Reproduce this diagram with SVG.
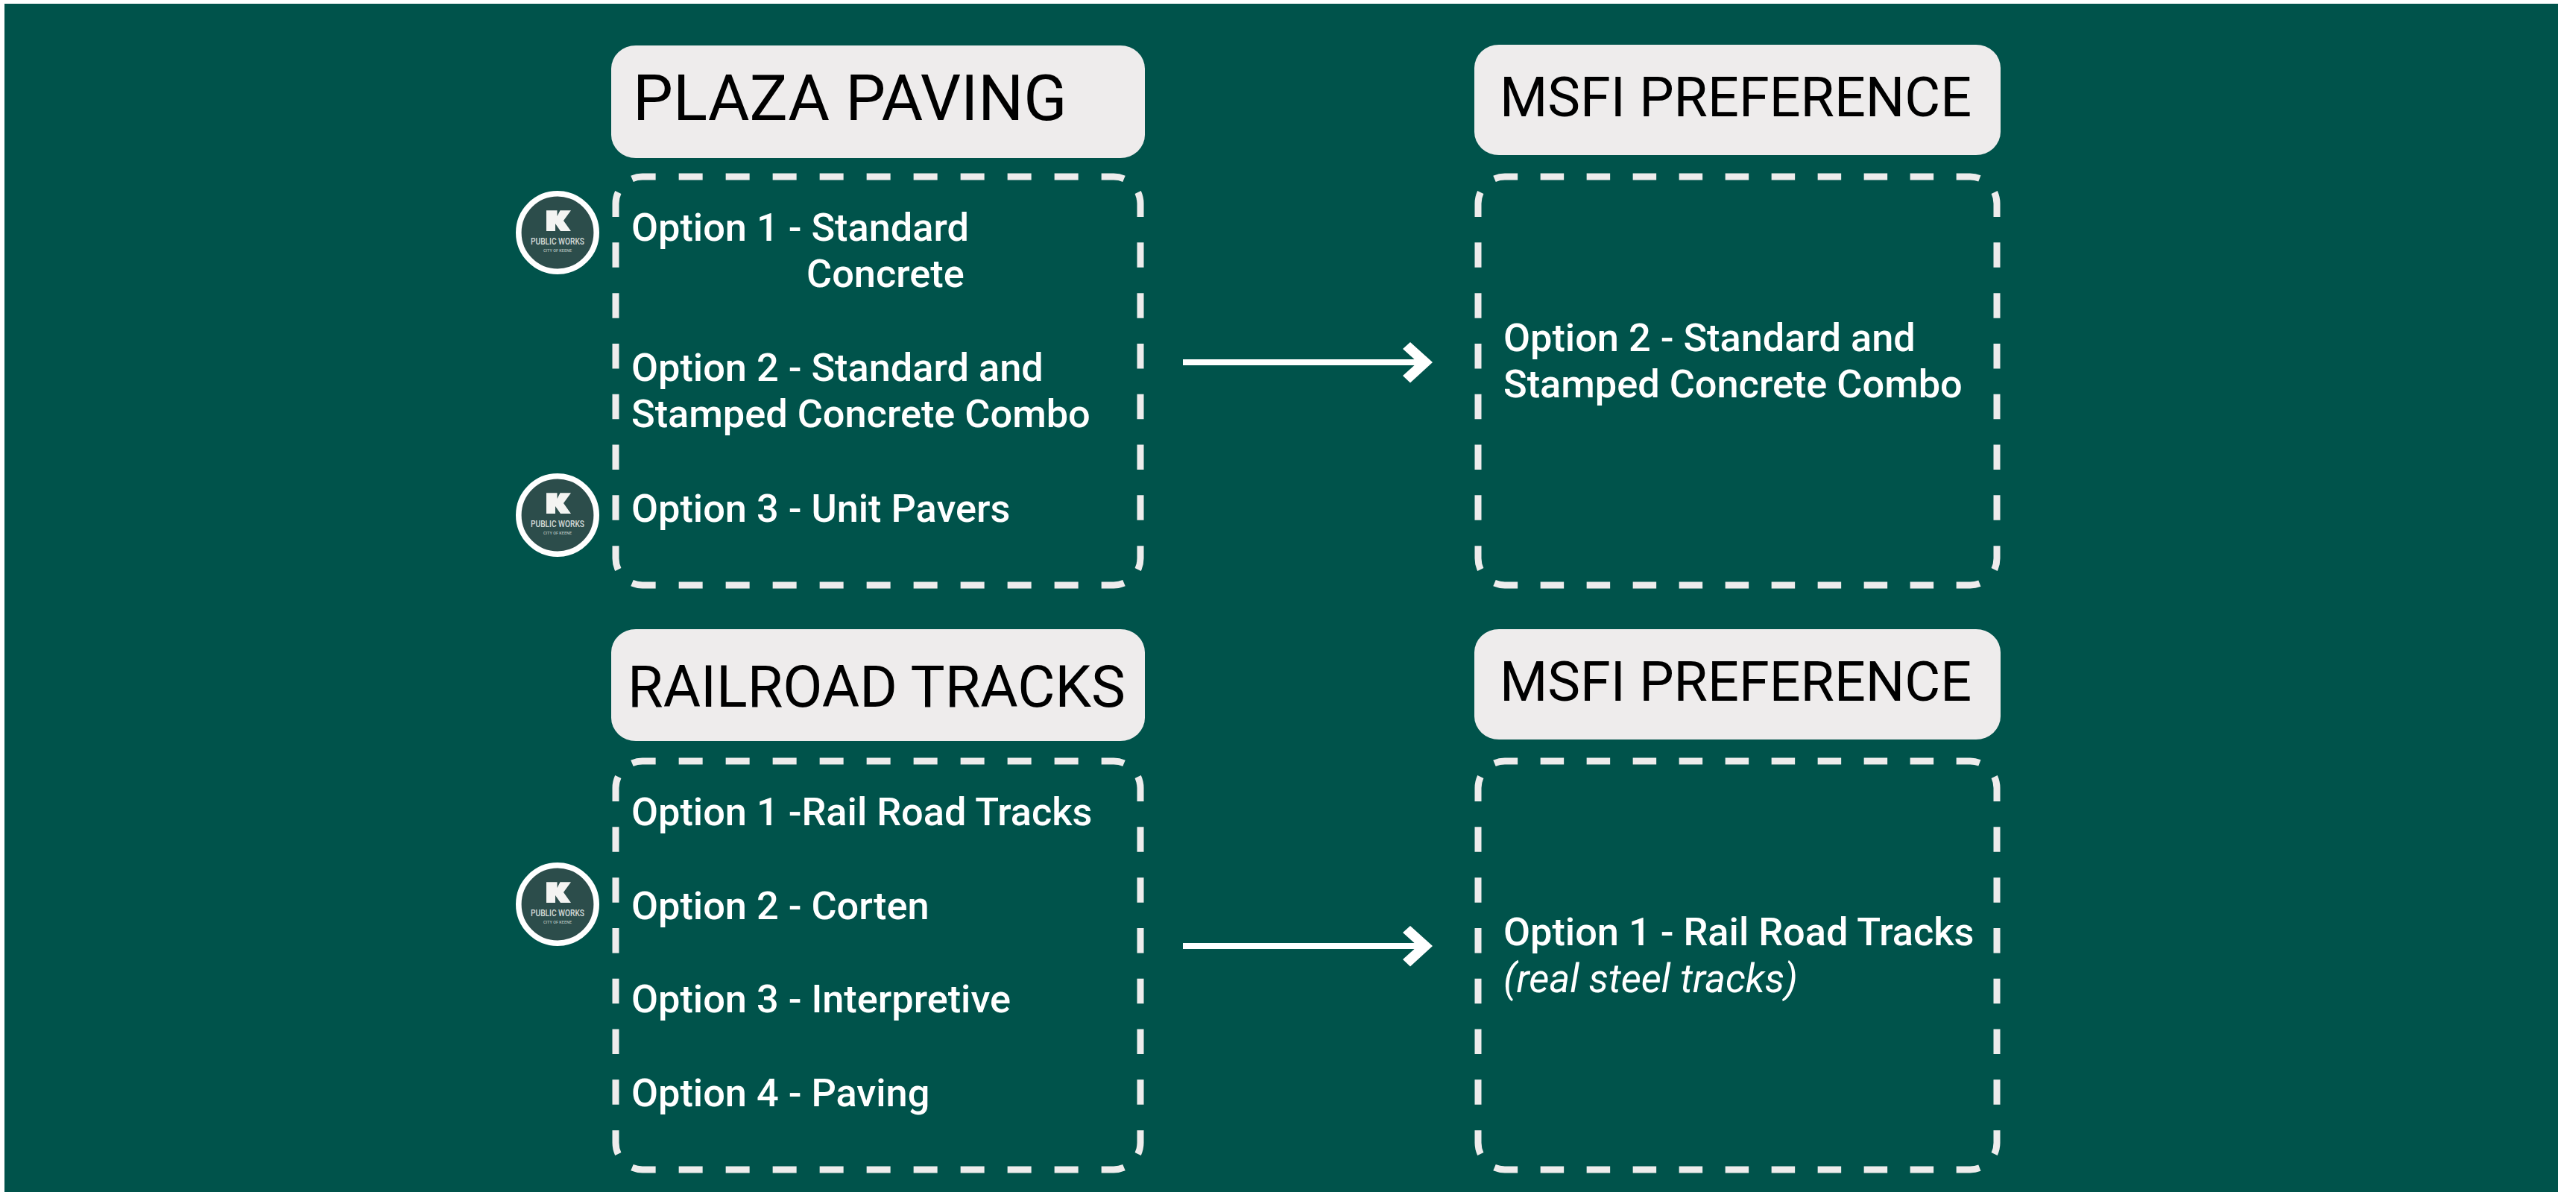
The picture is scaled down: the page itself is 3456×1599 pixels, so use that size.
<svg xmlns="http://www.w3.org/2000/svg" width="3456" height="1599" viewBox="0 0 3456 1599">
<style>
.h{fill:#eeecec}
.t{font-family:Roboto,"Liberation Sans",sans-serif;font-size:52.3px;font-weight:500;fill:#fff}
.i{font-weight:400;font-style:italic;font-size:52.7px}
.ht{font-family:Roboto,"Liberation Sans",sans-serif;font-size:85.5px;fill:#000}
.hs{font-size:73.7px}
.hr{font-size:77.3px}
.e{fill:none;stroke:#eeecec;stroke-width:9}
.x{stroke-dasharray:32 31}
.xs{stroke-dasharray:31.5 30.5}
.y{stroke-dasharray:33.5 34.3}
.a{fill:none;stroke:#fff;stroke-width:8}
</style>
<defs>
<g id="L">
<path class="e x" d="M22 2.8A36 36 0 0 1 36 0H668A36 36 0 0 1 682 2.8"/>
<path class="e x" d="M22 545.2A36 36 0 0 0 36 548H668A36 36 0 0 0 682 545.2"/>
<path class="e y" d="M3.3 21A36 36 0 0 0 0 36V512A36 36 0 0 0 3.3 527"/>
<path class="e y" d="M700.7 21A36 36 0 0 1 704 36V512A36 36 0 0 1 700.7 527"/>
</g>
<g id="R">
<path class="e xs" d="M22 2.8A36 36 0 0 1 36 0H660A36 36 0 0 1 674 2.8"/>
<path class="e xs" d="M22 545.2A36 36 0 0 0 36 548H660A36 36 0 0 0 674 545.2"/>
<path class="e y" d="M3.3 21A36 36 0 0 0 0 36V512A36 36 0 0 0 3.3 527"/>
<path class="e y" d="M692.7 21A36 36 0 0 1 696 36V512A36 36 0 0 1 692.7 527"/>
</g>
<g id="logo">
<circle r="52.2" fill="#2c4d4b" stroke="#fff" stroke-width="7.6"/>
<path fill="#f4f4f2" d="M-15-29.7H-0.5V-22L3.5-29.7H18L8-16L18-2H4L-3-12V-2H-15Z"/>
<text x="0" y="16.3" text-anchor="middle" font-family="Roboto,sans-serif" font-size="12.6" font-weight="500" fill="#d5dbd9" textLength="72" lengthAdjust="spacingAndGlyphs">PUBLIC WORKS</text>
<text x="0" y="26" text-anchor="middle" font-family="Roboto,sans-serif" font-size="5.5" font-weight="500" fill="#b5c0bd" textLength="38" lengthAdjust="spacingAndGlyphs">CITY OF KEENE</text>
</g>
<g id="arrow">
<path class="a" d="M0 0H325"/>
<path fill="#fff" d="M305-27L335 0L305 27.5L295 18L315 0L295-18Z"/>
</g>
</defs>
<rect width="3456" height="1599" fill="#fff"/>
<rect x="6" y="5" width="3426" height="1594" fill="#00534b"/>
<g id="connectors">
<use href="#arrow" x="1587" y="486"/>
<use href="#arrow" x="1587" y="1269"/>
</g>
<g id="plaza-paving">
<rect class="h" x="820" y="61" width="716" height="151" rx="33" ry="31"/>
<text class="ht" x="849" y="161">PLAZA PAVING</text>
</g>
<g id="plaza-options">
<use href="#L" x="826" y="237"/>
<text class="t" x="847" y="323">Option 1 - Standard</text>
<text class="t" x="1082" y="385">Concrete</text>
<text class="t" x="847" y="511">Option 2 - Standard and</text>
<text class="t" x="847" y="573">Stamped Concrete Combo</text>
<text class="t" x="847" y="700">Option 3 - Unit Pavers</text>
</g>
<g id="plaza-preference-title">
<rect class="h" x="1978" y="60" width="706" height="148" rx="33" ry="31"/>
<text class="ht hs" x="2012" y="156">MSFI PREFERENCE</text>
</g>
<g id="plaza-preference">
<use href="#R" x="1983" y="237"/>
<text class="t" x="2017" y="471">Option 2 - Standard and</text>
<text class="t" x="2017" y="533">Stamped Concrete Combo</text>
</g>
<g id="railroad-tracks">
<rect class="h" x="820" y="844" width="716" height="150" rx="33" ry="31"/>
<text class="ht hr" x="842" y="948">RAILROAD TRACKS</text>
</g>
<g id="railroad-options">
<use href="#L" x="826" y="1021"/>
<text class="t" x="847" y="1107">Option 1 -Rail Road Tracks</text>
<text class="t" x="847" y="1233">Option 2 - Corten</text>
<text class="t" x="847" y="1358">Option 3 - Interpretive</text>
<text class="t" x="847" y="1484">Option 4 - Paving</text>
</g>
<g id="railroad-preference-title">
<rect class="h" x="1978" y="844" width="706" height="148" rx="33" ry="31"/>
<text class="ht hs" x="2012" y="940">MSFI PREFERENCE</text>
</g>
<g id="railroad-preference">
<use href="#R" x="1983" y="1021"/>
<text class="t" x="2017" y="1268">Option 1 - Rail Road Tracks</text>
<text class="t i" x="2017" y="1331">(real steel tracks)</text>
</g>
<g id="logo-1"><use href="#logo" x="748" y="312"/></g>
<g id="logo-2"><use href="#logo" x="748" y="691"/></g>
<g id="logo-3"><use href="#logo" x="748" y="1213"/></g>
</svg>
